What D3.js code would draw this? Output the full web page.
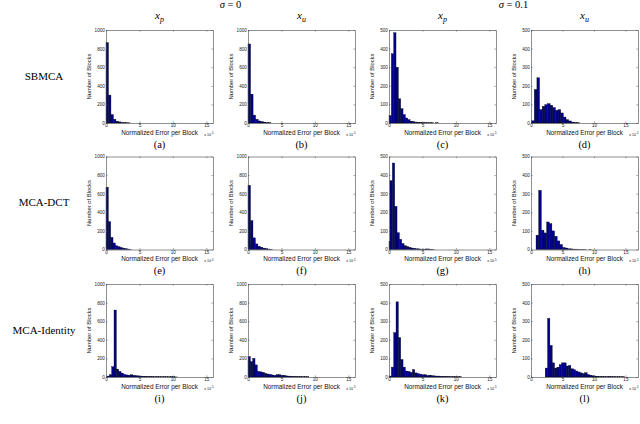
<!DOCTYPE html>
<meta charset="utf-8">
<script src="https://d3js.org/d3.v7.min.js"></script>
<style>
  body { margin: 0; background: #fff; }
  .tick-label { font-family: "Liberation Sans", Arial, sans-serif; font-size: 4.6px; fill: #222; }
  .ax-label { font-family: "Liberation Sans", Arial, sans-serif; fill: #111; }
  .serif { font-family: "Liberation Serif", "Times New Roman", serif; fill: #000; }
</style>
<svg id="fig" width="640" height="424"></svg>
<script>
// column / row headings
const sigmaTitles = ["0", "0.1"];
const colVars = ["p", "u", "p", "u"];
const rowNames = ["SBMCA", "MCA-DCT", "MCA-Identity"];
const panelLetters = ["a", "b", "c", "d", "e", "f", "g", "h", "i", "j", "k", "l"];

// axis limits per column
const yMaxByCol = [1000, 1000, 500, 500];
const xMaxByCol = [16, 16, 16, 17];
const xTicks = [0, 5, 10, 15];
const yTicks1000 = [0, 200, 400, 600, 800, 1000];
const yTicks500 = [0, 100, 200, 300, 400, 500];

// histogram counts, bin start and bin width per panel
const countsA = [865, 300, 90, 40, 20, 12, 6, 4, 2, 1];
const countsB = [850, 310, 85, 40, 22, 15, 10, 5, 2];
const countsC = [40, 372, 485, 300, 130, 77, 45, 27, 18, 10, 8, 5, 4, 3, 2, 2, 1, 1, 1, 0, 1];
const countsD = [12, 180, 243, 72, 90, 99, 104, 95, 83, 68, 72, 54, 32, 18, 11, 5, 3, 2];
const countsE = [670, 300, 130, 70, 40, 30, 22, 15, 10, 5, 2];
const countsF = [690, 310, 125, 60, 35, 25, 15, 10, 5, 3];
const countsG = [42, 370, 465, 232, 90, 55, 32, 20, 16, 12, 8, 6, 4, 3, 2, 2, 3, 3, 2, 1];
const countsH = [77, 318, 104, 89, 148, 139, 100, 71, 46, 27, 11, 8, 4, 3, 2, 2, 1, 1, 1, 0, 1];
const countsI = [10, 25, 110, 720, 85, 60, 42, 28, 22, 20, 25, 18, 14, 12, 10, 8, 8, 6, 6, 5, 4, 4, 3, 3, 3, 2, 2, 2, 2, 1];
const countsJ = [220, 165, 200, 130, 60, 55, 50, 40, 32, 28, 22, 18, 25, 25, 20, 18, 12, 10, 8, 7, 6, 5, 5, 4, 3, 2];
const countsK = [5, 53, 238, 404, 212, 94, 53, 32, 30, 25, 40, 22, 18, 15, 12, 12, 8, 10, 7, 6, 5, 5, 4, 4, 3, 3, 2, 2, 2, 1, 1];
const countsL = [48, 315, 170, 76, 48, 53, 66, 76, 76, 59, 62, 44, 39, 32, 27, 22, 18, 23, 13, 10, 7, 5, 4, 3, 3, 2, 2, 3, 2, 2, 1, 1, 1, 1];

const allCounts = [countsA, countsB, countsC, countsD, countsE, countsF,
                   countsG, countsH, countsI, countsJ, countsK, countsL];
const binStarts = [0, 0, 0, 0.1, 0, 0, -0.2, 0.8, 0.15, 0, 0, 2.26];
const binWidths = [0.37, 0.38, 0.35, 0.42, 0.35, 0.37, 0.35, 0.42, 0.35, 0.35, 0.35, 0.37];
const expLabel = "-5";

// layout
const colLeft = [106, 248, 389, 531];
const rowTop = [30, 156.5, 284];
const pw = 107, ph = 93;

const svg = d3.select("#fig");

// sigma headings
sigmaTitles.forEach(function (s, k) {
    const cx = (colLeft[2 * k] + colLeft[2 * k + 1] + pw) / 2;
    const t = svg.append("text").attr("class", "serif")
        .attr("x", cx).attr("y", 8).attr("text-anchor", "middle")
        .style("font-size", "10.5px");
    t.append("tspan").style("font-style", "italic").text("σ");
    t.append("tspan").text(" = " + s);
});

// x_p / x_u headings
colVars.forEach(function (v, c) {
    const t = svg.append("text").attr("class", "serif")
        .attr("x", colLeft[c] + pw / 2).attr("y", 19).attr("text-anchor", "middle")
        .style("font-size", "11px").style("font-style", "italic");
    t.append("tspan").text("x");
    t.append("tspan").attr("dy", 2.5).style("font-size", "8px").text(v);
});

// row names
rowNames.forEach(function (r, i) {
    svg.append("text").attr("class", "serif")
        .attr("x", 44).attr("y", rowTop[i] + ph / 2 + 3)
        .attr("text-anchor", "middle").style("font-size", "11px").text(r);
});

allCounts.forEach(function (counts, idx) {
    const row = Math.floor(idx / 4), col = idx % 4;
    const x0 = colLeft[col], y0 = rowTop[row];
    const x = d3.scaleLinear().domain([0, xMaxByCol[col]]).range([x0, x0 + pw]);
    const y = d3.scaleLinear().domain([0, yMaxByCol[col]]).range([y0 + ph, y0]);
    const yTicks = yMaxByCol[col] === 1000 ? yTicks1000 : yTicks500;
    const g = svg.append("g");

    // bars
    g.selectAll("rect")
        .data(counts.map(function (n, i) { return { x: binStarts[idx] + i * binWidths[idx], n: n }; }))
        .join("rect")
        .attr("x", function (d) { return x(Math.max(0, d.x)); })
        .attr("width", function (d) { return x(d.x + binWidths[idx]) - x(Math.max(0, d.x)); })
        .attr("y", function (d) { return y(d.n); })
        .attr("height", function (d) { return y(0) - y(d.n); })
        .attr("fill", "#00008c")
        .attr("stroke", "#000")
        .attr("stroke-width", 0.35);

    // axes: bottom/left with labels, top/right mirror ticks
    const fmt = d3.format("d");
    const axB = d3.axisBottom(x).tickValues(xTicks).tickSizeInner(-1.6).tickSizeOuter(0).tickPadding(1.2).tickFormat(fmt);
    const axT = d3.axisTop(x).tickValues(xTicks).tickSizeInner(-1.6).tickSizeOuter(0).tickFormat("");
    const axL = d3.axisLeft(y).tickValues(yTicks).tickSizeInner(-1.6).tickSizeOuter(0).tickPadding(1.2).tickFormat(fmt);
    const axR = d3.axisRight(y).tickValues(yTicks).tickSizeInner(-1.6).tickSizeOuter(0).tickFormat("");

    [[axB, "translate(0," + (y0 + ph) + ")"], [axT, "translate(0," + y0 + ")"],
     [axL, "translate(" + x0 + ",0)"], [axR, "translate(" + (x0 + pw) + ",0)"]].forEach(function (a) {
        const ag = g.append("g").attr("transform", a[1]).call(a[0]);
        ag.select(".domain").attr("stroke", "#444").attr("stroke-width", 0.6);
        ag.selectAll(".tick line").attr("stroke", "#444").attr("stroke-width", 0.5);
        ag.selectAll(".tick text").attr("class", "tick-label").attr("font-size", null).attr("font-family", null);
    });

    // axis titles
    g.append("text").attr("class", "ax-label")
        .attr("x", x0 + pw / 2).attr("y", y0 + ph + 11.5)
        .attr("text-anchor", "middle").style("font-size", "6.4px")
        .text("Normalized Error per Block");
    const ex = g.append("text").attr("class", "ax-label")
        .attr("x", x0 + pw + 0.5).attr("y", y0 + ph + 12.5)
        .attr("text-anchor", "end")
        .style("font-size", "3.6px");
    ex.append("tspan").text("x 10");
    ex.append("tspan").attr("dy", -1.5).style("font-size", "2.8px").text(expLabel);
    g.append("text").attr("class", "ax-label")
        .attr("transform", "translate(" + (x0 - 15) + "," + (y0 + ph / 2) + ") rotate(-90)")
        .attr("text-anchor", "middle").style("font-size", "5.8px")
        .text("Number of Blocks");

    // panel letter
    svg.append("text").attr("class", "serif")
        .attr("x", x0 + pw / 2).attr("y", y0 + ph + 24.5)
        .attr("text-anchor", "middle").style("font-size", "10.5px")
        .text("(" + panelLetters[idx] + ")");
});
</script>
